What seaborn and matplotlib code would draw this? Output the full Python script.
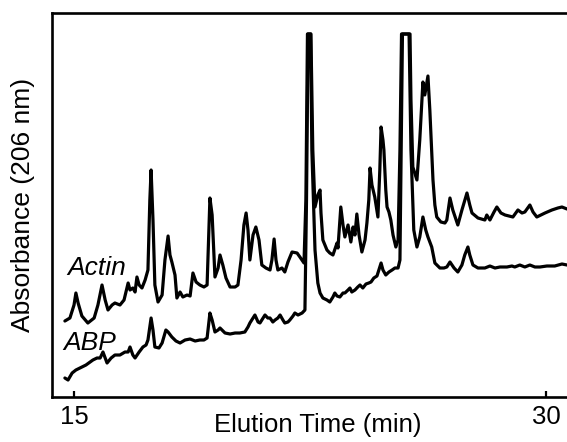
import pandas as pd
import seaborn as sns
import matplotlib.pyplot as plt

# Trazas (tiempo en min, absorbancia en unidades arbitrarias)
actin_time = [14.71, 14.87, 15.00, 15.06, 15.13, 15.25, 15.44, 15.64, 15.76, 15.89,
              15.99, 16.08, 16.21, 16.30, 16.46, 16.59, 16.72, 16.78, 16.87, 16.94,
              17.00, 17.07, 17.16, 17.26, 17.35, 17.41, 17.45, 17.51, 17.57, 17.67,
              17.80, 17.89, 17.99, 18.05, 18.11, 18.21, 18.27, 18.37, 18.46, 18.59,
              18.69, 18.78, 18.88, 19.00, 19.13, 19.23, 19.32, 19.39, 19.48, 19.58,
              19.64, 19.73, 19.83, 19.96, 20.12, 20.21, 20.31, 20.40, 20.47, 20.53,
              20.59, 20.69, 20.78, 20.88, 20.97, 21.10, 21.23, 21.29, 21.36, 21.42,
              21.48, 21.61, 21.70, 21.80, 21.93, 22.09, 22.18, 22.31, 22.37, 22.42,
              22.53, 22.59, 22.66, 22.75, 22.82, 22.85, 22.91, 23.04, 23.13, 23.23,
              23.36, 23.39, 23.48, 23.55, 23.61, 23.71, 23.80, 23.87, 23.93, 23.99,
              24.06, 24.15, 24.25, 24.31, 24.37, 24.41, 24.47, 24.56, 24.66, 24.72,
              24.76, 24.82, 24.85, 24.91, 24.95, 25.01, 25.07, 25.14, 25.23, 25.30,
              25.36, 25.41, 25.68, 25.71, 25.77, 25.90, 25.99, 26.09, 26.15, 26.25,
              26.31, 26.41, 26.47, 26.53, 26.66, 26.79, 26.85, 26.95, 27.04, 27.20,
              27.33, 27.49, 27.58, 27.65, 27.84, 28.06, 28.12, 28.22, 28.35, 28.44,
              28.57, 28.70, 28.95, 29.11, 29.24, 29.33, 29.49, 29.59, 29.71, 29.84,
              29.97, 30.19, 30.38, 30.51, 30.67]
actin_abs = [76, 79, 92, 104, 94, 81, 74, 79, 92, 112,
             97, 87, 92, 94, 92, 97, 114, 107, 109, 105,
             120, 112, 109, 117, 127, 197, 227, 177, 112, 95,
             102, 137, 161, 142, 135, 122, 99, 105, 100, 102,
             101, 124, 115, 112, 110, 112, 199, 182, 120, 129,
             142, 132, 119, 110, 110, 112, 137, 172, 184, 167,
             137, 162, 170, 157, 132, 129, 127, 137, 158, 137,
             127, 129, 125, 135, 145, 144, 140, 134, 197, 363,
             363, 247, 190, 202, 207, 184, 157, 147, 144, 142,
             154, 149, 190, 172, 160, 172, 155, 170, 162, 183,
             162, 145, 157, 174, 197, 229, 212, 200, 180, 227,
             270, 257, 247, 207, 190, 185, 177, 162, 150, 157,
             247, 363, 363, 297, 230, 217, 257, 315, 302, 321,
             287, 217, 192, 180, 175, 174, 177, 199, 187, 172,
             187, 204, 192, 184, 179, 177, 182, 177, 185, 190,
             184, 182, 180, 187, 184, 185, 192, 185, 180, 182,
             184, 187, 189, 190, 188]

abp_time = [14.71, 14.81, 14.94, 15.06, 15.19, 15.38, 15.60, 15.73, 15.83, 15.92,
            15.99, 16.05, 16.18, 16.30, 16.46, 16.62, 16.72, 16.78, 16.87, 16.94,
            17.07, 17.19, 17.29, 17.35, 17.45, 17.51, 17.57, 17.70, 17.80, 17.92,
            17.99, 18.11, 18.24, 18.37, 18.53, 18.69, 18.85, 19.00, 19.13, 19.23,
            19.32, 19.39, 19.48, 19.58, 19.64, 19.80, 19.96, 20.12, 20.27, 20.43,
            20.53, 20.59, 20.69, 20.75, 20.85, 20.91, 21.01, 21.07, 21.16, 21.23,
            21.32, 21.39, 21.48, 21.55, 21.64, 21.70, 21.80, 21.86, 21.96, 22.02,
            22.12, 22.25, 22.34, 22.39, 22.44, 22.52, 22.56, 22.66, 22.75, 22.82,
            22.91, 23.04, 23.13, 23.23, 23.29, 23.36, 23.45, 23.55, 23.61, 23.71,
            23.77, 23.83, 23.93, 24.02, 24.09, 24.18, 24.28, 24.37, 24.44, 24.53,
            24.63, 24.69, 24.76, 24.82, 24.91, 25.01, 25.11, 25.20, 25.30, 25.36,
            25.44, 25.65, 25.71, 25.80, 25.90, 25.99, 26.09, 26.18, 26.25, 26.37,
            26.47, 26.63, 26.76, 26.85, 26.95, 27.08, 27.20, 27.33, 27.42, 27.52,
            27.58, 27.68, 27.84, 28.06, 28.22, 28.38, 28.54, 28.76, 28.92, 29.01,
            29.17, 29.33, 29.49, 29.65, 29.81, 30.03, 30.28, 30.51, 30.67]
abp_abs = [19, 17, 24, 27, 29, 32, 37, 39, 39, 45,
           39, 34, 39, 42, 42, 45, 45, 50, 42, 39,
           45, 50, 52, 57, 79, 67, 50, 49, 54, 67,
           65, 60, 56, 54, 57, 58, 56, 57, 57, 59,
           84, 77, 65, 67, 69, 64, 63, 64, 64, 65,
           70, 74, 79, 82, 75, 74, 79, 82, 79, 79,
           75, 77, 79, 82, 77, 74, 75, 77, 81, 84,
           82, 84, 87, 197, 363, 363, 247, 147, 114, 104,
           99, 97, 95, 100, 104, 101, 100, 104, 104, 107,
           109, 105, 107, 110, 112, 109, 113, 114, 115, 119,
           121, 127, 134, 127, 122, 125, 127, 129, 129, 137,
           363, 363, 247, 167, 150, 160, 180, 167, 160, 150,
           134, 129, 129, 130, 135, 129, 125, 132, 142, 150,
           142, 132, 129, 129, 131, 129, 130, 130, 131, 130,
           132, 130, 132, 130, 130, 131, 131, 133, 132]

x_ticks = [15, 30]
labels = ["Actin", "ABP"]

df_actin = pd.DataFrame({"tiempo": actin_time, "abs": actin_abs})
df_abp = pd.DataFrame({"tiempo": abp_time, "abs": abp_abs})

sns.set_style("white")
plt.rcParams["font.family"] = ["Liberation Sans", "DejaVu Sans"]
plt.rcParams["text.color"] = "black"
plt.rcParams["axes.labelcolor"] = "black"
plt.rcParams["xtick.color"] = "black"

fig = plt.figure(figsize=(5.67, 4.42), dpi=100)
ax = fig.add_axes([0.0917, 0.1018, 0.9083, 0.8688])

sns.lineplot(data=df_actin, x="tiempo", y="abs", estimator=None, sort=False,
             color="black", linewidth=2.3, ax=ax)
sns.lineplot(data=df_abp, x="tiempo", y="abs", estimator=None, sort=False,
             color="black", linewidth=2.3, ax=ax)

ax.set_xlim(14.30, 30.67)
ax.set_ylim(0, 384)
ax.set_xticks(x_ticks)
ax.set_yticks([])
ax.tick_params(axis="x", bottom=True, direction="in", length=4.5, width=1.6,
               labelsize=18.5, pad=6, colors="black")

for side in ["left", "top", "bottom"]:
    ax.spines[side].set_linewidth(1.9)
    ax.spines[side].set_color("black")
ax.spines["right"].set_visible(False)

ax.set_xlabel("Elution Time (min)", fontsize=18.5, color="black")
ax.xaxis.set_label_coords(0.5165, -0.0417)
ax.set_ylabel("Absorbance (206 nm)", fontsize=19, labelpad=12, color="black")

ax.text(14.78, 122, labels[0], style="italic", fontsize=19, va="baseline", color="black")
ax.text(14.65, 47, labels[1], style="italic", fontsize=19, va="baseline", color="black")

fig.savefig("out.png", dpi=100)
